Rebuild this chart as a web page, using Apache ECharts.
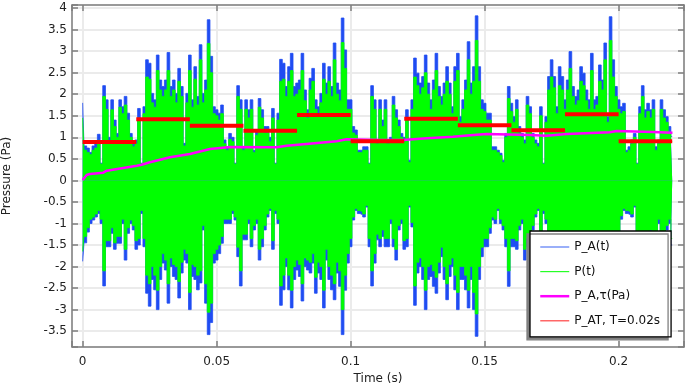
<!DOCTYPE html>
<html>
<head>
<meta charset="utf-8">
<script src="https://cdn.jsdelivr.net/npm/echarts@6/dist/echarts.min.js"></script>
<style>html,body{margin:0;padding:0;background:#fff}#c{width:690px;height:388px}</style>
</head>
<body>
<div id="c"></div>
<script>
// sampling grid of the pressure signals (s)
const sampleStart = 0;
const sampleStep = 0.001;
// blue P_A(t): upper / lower peak per sample
const paUpper = [1.8,0.8,0.75,0.65,0.8,0.85,1.07,0.4,2.2,1.87,1.0,1.87,1.4,1.09,1.87,1.71,1.95,1.56,1.09,0.86,0.94,1.67,0.4,1.71,2.8,2.72,2.02,1.87,2.91,2.33,2.18,2.33,2.97,2.18,2.33,2.02,2.6,2.18,0.86,2.02,2.91,1.87,2.64,1.95,3.15,2.02,2.33,3.73,2.88,1.71,1.64,1.56,1.75,0.94,0.78,1.09,1.0,0.4,2.2,1.87,0.78,1.87,1.64,1.87,0.7,1.17,1.9,1.64,1.25,1.25,1.0,1.67,0.4,1.56,2.81,2.72,2.18,2.64,2.95,2.18,2.26,2.33,2.95,2.1,1.64,2.37,2.6,1.87,1.71,2.02,2.72,2.26,2.64,2.18,3.19,2.26,2.1,3.77,3.03,1.87,1.87,1.25,1.17,0.7,0.7,0.78,0.78,0.4,2.2,1.87,0.94,1.87,1.4,1.87,0.94,1.0,1.95,1.64,1.4,1.09,1.0,1.64,0.47,1.87,2.84,2.49,2.26,2.41,2.91,2.26,1.87,2.33,2.95,2.18,1.95,2.26,2.64,2.26,1.71,2.64,2.95,1.48,1.87,2.33,3.22,2.26,2.64,3.82,2.64,1.87,1.79,1.56,1.56,0.78,0.78,0.7,0.63,0.47,1.09,2.18,1.79,1.48,1.87,1.25,1.09,0.94,1.95,1.71,1.09,0.94,0.86,1.71,0.4,1.48,2.41,2.8,2.41,1.71,2.64,2.41,1.87,2.33,2.99,2.18,1.95,2.1,2.64,2.49,2.1,1.87,2.95,1.87,1.95,2.68,2.33,3.19,1.48,3.8,2.8,2.18,1.87,1.71,1.79,0.7,0.78,0.94,1.09,0.4,1.71,2.2,1.64,1.79,1.64,1.87,0.78,0.94,1.87,1.64,1.48,1.25,1.02];
const paLower = [-1.88,-1.45,-1.2,-1.0,-0.92,-0.85,-0.77,-1.0,-2.45,-1.54,-1.54,-1.23,-1.6,-1.46,-1.46,-1.0,-1.85,-1.23,-1.0,-1.15,-1.6,-1.5,-0.77,-1.54,-2.62,-2.92,-2.3,-2.54,-3.0,-2.3,-1.92,-2.08,-2.85,-2.0,-2.23,-2.3,-2.73,-2.15,-1.85,-1.92,-3.0,-2.23,-2.3,-2.54,-2.38,-1.15,-2.85,-3.58,-3.3,-1.92,-1.85,-1.7,-1.46,-1.0,-1.0,-1.0,-0.77,-0.92,-1.77,-2.45,-1.38,-1.38,-1.0,-1.54,-1.15,-1.0,-1.85,-1.54,-1.15,-0.85,-0.7,-1.6,-0.77,-1.0,-2.9,-2.54,-2.0,-2.54,-2.96,-2.3,-2.08,-2.23,-2.8,-2.0,-2.08,-2.15,-1.92,-2.62,-2.15,-2.3,-2.96,-1.85,-2.3,-2.54,-2.77,-2.15,-2.46,-3.58,-2.55,-1.92,-1.54,-0.92,-0.7,-0.77,-0.8,-0.85,-0.62,-1.54,-2.45,-1.92,-1.38,-1.54,-1.3,-1.54,-1.54,-1.0,-1.54,-1.85,-1.15,-1.0,-1.6,-1.54,-0.62,-1.08,-2.9,-2.15,-2.0,-2.3,-3.0,-2.3,-2.23,-2.46,-2.62,-2.15,-1.77,-2.3,-2.77,-2.23,-2.0,-2.54,-3.0,-2.3,-2.3,-2.54,-2.96,-2.3,-3.0,-3.62,-2.3,-1.77,-1.54,-1.54,-1.23,-0.92,-1.0,-0.7,-1.0,-1.15,-1.54,-2.46,-1.54,-1.54,-1.6,-1.15,-1.0,-1.85,-1.54,-1.4,-1.15,-0.85,-0.7,-1.6,-0.77,-1.0,-2.5,-2.9,-2.0,-2.5,-2.9,-2.3,-2.1,-2.2,-2.8,-2.0,-2.1,-2.15,-1.9,-2.6,-2.15,-2.3,-2.95,-1.85,-2.3,-2.5,-2.75,-2.15,-2.45,-3.5,-3.2,-1.9,-1.5,-0.9,-0.7,-0.77,-0.8,-0.85,-0.62,-1.5,-2.4,-1.9,-1.4,-1.5,-1.3,-1.5,-1.5,-1.0,-1.5,-1.8,-1.15,-1.0,-1.5];
// green P(t): upper / lower peak per sample
const pUpper = [1.45,0.7,0.65,0.6,0.7,0.75,0.93,0.38,1.95,1.65,0.9,1.64,1.25,1.0,1.7,1.55,1.75,1.4,1.0,0.78,0.85,1.45,0.38,1.55,2.4,2.35,1.8,1.7,2.55,2.1,1.95,2.1,2.55,1.95,2.1,1.8,2.3,1.95,0.8,1.8,2.55,1.7,2.35,1.75,2.8,1.8,2.1,3.18,2.5,1.55,1.5,1.4,1.55,0.85,0.7,0.95,0.9,0.38,1.95,1.65,0.7,1.65,1.45,1.65,0.65,1.05,1.7,1.45,1.1,1.1,0.9,1.45,0.38,1.4,2.3,2.35,1.95,2.3,2.55,1.95,2.0,2.1,2.55,1.85,1.45,2.1,2.3,1.65,1.55,1.8,2.35,2.0,2.3,1.95,2.8,2.0,1.85,3.2,2.6,1.65,1.65,1.1,1.05,0.65,0.65,0.7,0.7,0.38,1.95,1.65,0.85,1.65,1.25,1.65,0.85,0.9,1.75,1.45,1.25,1.0,0.9,1.45,0.42,1.65,2.4,2.2,2.0,2.15,2.5,2.0,1.65,2.1,2.55,1.95,1.75,2.0,2.3,2.0,1.55,2.3,2.55,1.35,1.65,2.1,2.8,2.0,2.3,3.25,2.3,1.65,1.6,1.4,1.4,0.7,0.7,0.65,0.58,0.42,1.0,1.9,1.6,1.35,1.65,1.1,1.0,0.85,1.75,1.55,1.0,0.85,0.78,1.5,0.38,1.35,2.1,2.4,2.15,1.55,2.2,2.1,1.65,2.1,2.6,1.95,1.75,1.85,2.3,2.2,1.85,1.65,2.55,1.65,1.75,2.3,2.1,2.8,1.35,3.25,2.4,1.95,1.65,1.55,1.6,0.65,0.7,0.85,1.0,0.38,1.55,1.95,1.45,1.6,1.45,1.65,0.7,0.85,1.65,1.45,1.35,1.1,0.9];
const pLower = [-1.65,-1.3,-1.1,-0.9,-0.85,-0.78,-0.7,-0.9,-2.1,-1.4,-1.4,-1.1,-1.45,-1.3,-1.3,-0.9,-1.6,-1.1,-0.92,-1.05,-1.4,-1.35,-0.7,-1.35,-2.2,-2.4,-2.0,-2.2,-2.55,-2.0,-1.7,-1.85,-2.4,-1.8,-1.95,-2.0,-2.35,-1.9,-1.6,-1.7,-2.6,-1.95,-2.0,-2.2,-2.1,-1.05,-2.4,-3.06,-2.85,-1.7,-1.6,-1.5,-1.3,-0.9,-0.9,-0.9,-0.7,-0.85,-1.55,-2.1,-1.25,-1.25,-0.9,-1.35,-1.05,-0.9,-1.6,-1.35,-1.05,-0.78,-0.65,-1.4,-0.7,-0.9,-2.45,-2.2,-1.8,-2.2,-2.55,-2.0,-1.85,-1.95,-2.4,-1.8,-1.85,-1.9,-1.7,-2.25,-1.9,-2.0,-2.55,-1.6,-2.0,-2.2,-2.4,-1.9,-2.1,-3.0,-2.2,-1.7,-1.35,-0.85,-0.65,-0.7,-0.73,-0.78,-0.58,-1.35,-2.1,-1.7,-1.25,-1.35,-1.15,-1.35,-1.35,-0.9,-1.35,-1.6,-1.05,-0.9,-1.4,-1.35,-0.58,-0.98,-2.45,-1.9,-1.8,-2.0,-2.55,-2.0,-1.95,-2.1,-2.25,-1.9,-1.55,-2.0,-2.4,-1.95,-1.8,-2.2,-2.6,-2.0,-2.0,-2.2,-2.55,-2.0,-2.6,-3.1,-2.0,-1.55,-1.35,-1.35,-1.1,-0.85,-0.9,-0.65,-0.9,-1.05,-1.35,-2.1,-1.35,-1.35,-1.4,-1.05,-0.9,-1.6,-1.35,-1.25,-1.05,-0.78,-0.65,-1.4,-0.7,-0.9,-2.15,-2.45,-1.8,-2.2,-2.5,-2.0,-1.85,-1.95,-2.4,-1.8,-1.85,-1.9,-1.7,-2.25,-1.9,-2.0,-2.55,-1.6,-2.0,-2.2,-2.4,-1.9,-2.1,-3.0,-2.7,-1.7,-1.35,-0.82,-0.65,-0.7,-0.73,-0.78,-0.58,-1.35,-2.1,-1.7,-1.25,-1.35,-1.15,-1.35,-1.35,-0.9,-1.35,-1.6,-1.05,-0.9,-1.35];
// magenta P_A,tau running value
const tauTimes = [0,0.0015,0.0027,0.0077,0.009,0.0202,0.022,0.0251,0.0326,0.040,0.0475,0.055,0.0724,0.0761,0.0886,0.0948,0.0985,0.111,0.1195,0.1284,0.1382,0.147,0.1508,0.1669,0.1731,0.1806,0.1967,0.1993,0.2128,0.2201];
const tauValues = [0.01,0.125,0.149,0.179,0.225,0.341,0.364,0.42,0.536,0.613,0.729,0.775,0.768,0.806,0.875,0.908,0.954,0.938,0.938,0.977,1.015,1.061,1.077,1.054,1.038,1.077,1.117,1.147,1.124,1.108];
// red P_AT, windows of T = 0.02 s
const windowStarts = [0,0.02,0.04,0.06,0.08,0.10,0.12,0.14,0.16,0.18,0.20];
const windowT = 0.02;
const windowValues = [0.89,1.42,1.27,1.15,1.52,0.91,1.43,1.28,1.163,1.535,0.91];
// axis tick settings
const xTickStep = 0.05;
const yTickStep = 0.5;

const BLUE = '#1f4cf2', GREEN = '#00ff00', MAGENTA = '#ff00ff', RED = '#ff0000';
const FONT = 'DejaVu Sans';

function pairs(vals){ return vals.map((v,i)=>[+(sampleStart + i*sampleStep).toFixed(4), v]); }
function envSeries(name, vals, color, z){
  return {name, type:'line', step:'middle', data:pairs(vals), symbol:'none', z,
    lineStyle:{color, width:0.8}, itemStyle:{color}, areaStyle:{color, opacity:1, origin:0},
    animation:false, silent:true};
}
const series = [
  envSeries('P_A(t)', paUpper, BLUE, 2),
  envSeries('P_A(t)', paLower, BLUE, 2),
  envSeries('P(t)', pUpper, GREEN, 3),
  envSeries('P(t)', pLower, GREEN, 3),
  {name:'P_A,τ(Pa)', type:'line', data:tauTimes.map((t,i)=>[t,tauValues[i]]), symbol:'none', z:4,
   lineStyle:{color:MAGENTA, width:2.5}, itemStyle:{color:MAGENTA}, animation:false}
];
windowStarts.forEach((s,i)=>{
  series.push({name:'P_AT, T=0.02s', type:'line', data:[[s,windowValues[i]],[s+windowT,windowValues[i]]],
    symbol:'none', z:5, lineStyle:{color:RED, width:4}, itemStyle:{color:RED}, animation:false});
});

const xMin = -0.00398, xMax = 0.2244, yMin = -3.868, yMax = 4.072;
function fmt(step){
  return v => { const k = v/step; return Math.abs(k-Math.round(k))<1e-6 ? String(+v.toFixed(3)) : ''; };
}
const axisLineStyle = {color:'#7f7f7f', width:1.5};
const hiddenSym = {opacity:0};
const chart = echarts.init(document.getElementById('c'), null, {renderer:'canvas'});
chart.setOption({
  animation:false,
  backgroundColor:'#fff',
  grid:{left:72, right:6, top:5, bottom:41, containLabel:false, outerBoundsMode:'none'},
  xAxis:[
    {type:'value', min:xMin, max:xMax, splitNumber:5, position:'bottom',
     name:'Time (s)', nameLocation:'middle', nameGap:23,
     nameTextStyle:{fontFamily:FONT, fontSize:12, color:'#222'},
     axisLine:{show:true, onZero:false, lineStyle:axisLineStyle},
     axisTick:{show:true, inside:true, length:6, lineStyle:axisLineStyle},
     axisLabel:{fontFamily:FONT, fontSize:12, color:'#222', margin:9, formatter:fmt(xTickStep)},
     splitLine:{show:true, lineStyle:{color:'#ebebeb', width:2}}},
    {type:'value', min:xMin, max:xMax, splitNumber:5, position:'top',
     axisLine:{show:true, onZero:false, lineStyle:axisLineStyle},
     axisTick:{show:true, inside:true, length:6, lineStyle:axisLineStyle},
     axisLabel:{show:false}, splitLine:{show:false}}
  ],
  yAxis:[
    {type:'value', min:yMin, max:yMax, splitNumber:16, position:'left',
     name:'Pressure (Pa)', nameLocation:'middle', nameGap:59, nameRotate:90,
     nameTextStyle:{fontFamily:FONT, fontSize:12, color:'#222'},
     axisLine:{show:true, onZero:false, lineStyle:axisLineStyle},
     axisTick:{show:true, inside:true, length:6, lineStyle:axisLineStyle},
     axisLabel:{fontFamily:FONT, fontSize:12, color:'#222', margin:5, formatter:fmt(yTickStep)},
     splitLine:{show:true, lineStyle:{color:'#ebebeb', width:2}}},
    {type:'value', min:yMin, max:yMax, splitNumber:16, position:'right',
     axisLine:{show:true, onZero:false, lineStyle:axisLineStyle},
     axisTick:{show:true, inside:true, length:6, lineStyle:axisLineStyle},
     axisLabel:{show:false}, splitLine:{show:false}}
  ],
  legend:{
    orient:'vertical', left:530, top:231,
    padding:[9,11,9,9], itemWidth:29, itemHeight:14, itemGap:10.6,
    backgroundColor:'#fff', borderColor:'#000', borderWidth:1.3,
    shadowColor:'#808080', shadowBlur:0, shadowOffsetX:-3, shadowOffsetY:3,
    textStyle:{fontFamily:FONT, fontSize:12, color:'#111', lineHeight:14},
    selectedMode:false,
    data:[
      {name:'P_A(t)', itemStyle:hiddenSym, lineStyle:{color:BLUE, width:1.2, opacity:0.75}},
      {name:'P(t)', itemStyle:hiddenSym, lineStyle:{color:GREEN, width:1.2, opacity:0.85}},
      {name:'P_A,τ(Pa)', itemStyle:hiddenSym, lineStyle:{color:MAGENTA, width:2.5, opacity:1}},
      {name:'P_AT, T=0.02s', itemStyle:hiddenSym, lineStyle:{color:RED, width:1.2, opacity:0.75}}
    ]
  },
  series
});
</script>
</body>
</html>
